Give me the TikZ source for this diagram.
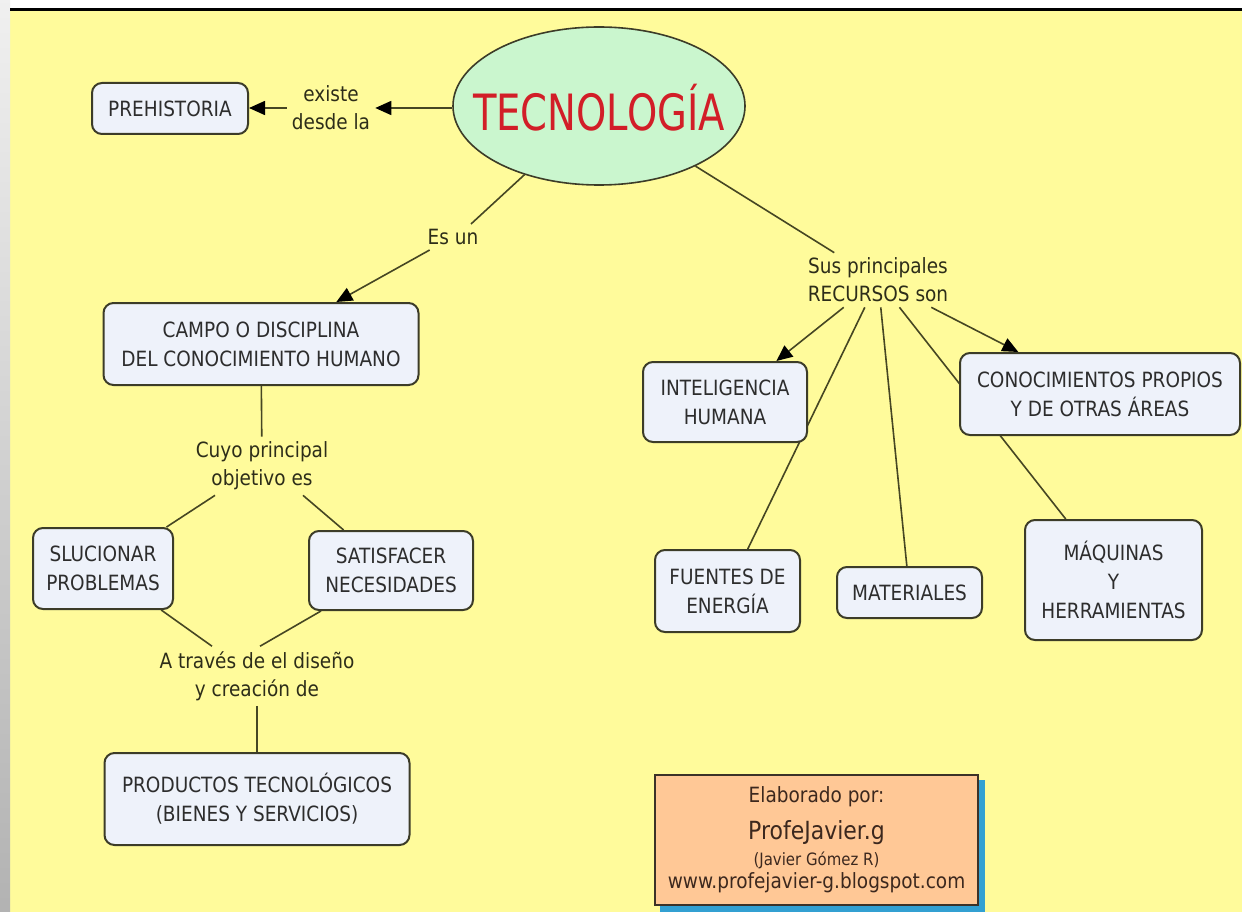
\documentclass[tikz,border=0pt]{standalone}
\usepackage{fontspec}
\setmainfont{DejaVu Sans}[FakeStretch=0.88]
\newfontfamily\titlefont{DejaVu Sans}[FakeStretch=0.77]
\usetikzlibrary{shapes.geometric,arrows.meta,calc}
\pgfdeclarelayer{bg}
\pgfdeclarelayer{edges}
\pgfsetlayers{bg,edges,main}
\definecolor{bgyellow}{RGB}{255,251,155}
\definecolor{boxfill}{RGB}{238,242,250}
\definecolor{boxdraw}{RGB}{60,60,40}
\definecolor{boxtext}{RGB}{45,45,45}
\definecolor{lbltext}{RGB}{45,45,25}
\definecolor{linecol}{RGB}{70,70,35}
\definecolor{ellfill}{RGB}{202,246,206}
\definecolor{titlered}{RGB}{210,30,40}
\definecolor{credfill}{RGB}{255,200,150}
\definecolor{creddraw}{RGB}{60,50,40}
\definecolor{credtext}{RGB}{60,40,30}
\definecolor{shadowblue}{RGB}{50,160,210}
\tikzset{
  box/.style={draw=boxdraw, line width=2pt, fill=boxfill, rounded corners=10pt,
    text=boxtext, align=center, font=\fontsize{21}{29}\selectfont, inner sep=0pt},
  lbl/.style={text=lbltext, align=center, font=\fontsize{21}{28}\selectfont, inner sep=5pt},
  conn/.style={draw=linecol, line width=1.6pt},
  arr/.style={conn, -{Triangle[length=16pt,width=14pt,color=black]}},
  credtxt/.style={text=credtext, anchor=base, inner sep=0pt}
}
\begin{document}
\begin{tikzpicture}[x=1pt,y=-1pt]
\useasboundingbox (0,0) rectangle (1242,912);
\begin{pgfonlayer}{bg}
  \fill[white] (0,0) rectangle (1242,912);
  \fill[bgyellow] (10,10) rectangle (1242,912);
  \shade[top color=black!6, bottom color=black!30] (0,0) rectangle (10,912);
  \fill[black] (10,8) rectangle (1242,11);
\end{pgfonlayer}

% nodes
\node[box, minimum width=156pt, minimum height=51pt] (pre) at (170,108.5) {PREHISTORIA};
\node[lbl] (exi) at (331,108) {existe\\desde la};
\node[ellipse, draw=boxdraw, line width=1.6pt, fill=ellfill, minimum width=292pt,
  minimum height=158pt, inner sep=0pt, text=titlered,
  font={\titlefont\fontsize{50}{50}\selectfont}] (tec) at (599,106)
  {\smash{\makebox[0pt]{\raisebox{-25pt}{TECNOLOGÍA}}}};
\node[lbl] (esun) at (453,237) {Es un};
\node[box, minimum width=315pt, minimum height=82pt] (campo) at (261,344) {CAMPO O DISCIPLINA\\DEL CONOCIMIENTO HUMANO};
\node[lbl] (cuyo) at (262,466) {Cuyo principal\\objetivo es};
\node[box, minimum width=140pt, minimum height=81pt] (sol) at (103,568.5) {SLUCIONAR\\PROBLEMAS};
\node[box, minimum width=164pt, minimum height=79pt] (sat) at (391,570.5) {SATISFACER\\NECESIDADES};
\node[lbl] (atr) at (257,676) {A través de el diseño\\y creación de};
\node[box, minimum width=305pt, minimum height=92pt] (prod) at (257,799) {PRODUCTOS TECNOLÓGICOS\\(BIENES Y SERVICIOS)};
\node[lbl] (sus) at (878,280) {Sus principales\\RECURSOS son};
\node[box, minimum width=164pt, minimum height=80pt] (intel) at (725,402) {INTELIGENCIA\\HUMANA};
\node[box, minimum width=280pt, minimum height=82pt] (cono) at (1100,394) {CONOCIMIENTOS PROPIOS\\Y DE OTRAS ÁREAS};
\node[box, minimum width=145pt, minimum height=82pt] (fuen) at (727.5,591) {FUENTES DE\\ENERGÍA};
\node[box, minimum width=145pt, minimum height=51pt] (mat) at (909.5,592.5) {MATERIALES};
\node[box, minimum width=177pt, minimum height=120pt] (maq) at (1113.5,580) {MÁQUINAS\\Y\\HERRAMIENTAS};

% credits
\node[draw=creddraw, line width=2pt, fill=credfill, minimum width=323pt,
  minimum height=130pt, inner sep=0pt] (cred) at (816.5,840) {};
\node[credtxt, font=\fontsize{21}{21}\selectfont] (c1) at (816.5,802) {Elaborado por:};
\node[credtxt, font=\fontsize{25}{25}\selectfont] (c2) at (816.5,839) {ProfeJavier.g};
\node[credtxt, font=\fontsize{17}{17}\selectfont] (c3) at (816.5,865) {(Javier Gómez R)};
\node[credtxt, font=\fontsize{21}{21}\selectfont] (c4) at (816.5,888) {www.profejavier-g.blogspot.com};

\begin{pgfonlayer}{edges}
  \fill[shadowblue] ([xshift=6pt,yshift=-6pt]cred.south west) rectangle ([xshift=6pt,yshift=-6pt]cred.north east);
  \draw[arr] (exi.east -| tec.west) -- (exi.east);
  \draw[arr] (exi.west) -- (exi.west -| pre.east);
  \draw[conn] (tec) -- ([xshift=18pt]esun.north);
  \draw[arr] (esun) -- (campo);
  \draw[conn] (tec) -- (sus);
  \draw[arr] (sus) -- (intel);
  \draw[conn] (sus) -- (fuen);
  \draw[conn] (sus) -- (mat);
  \draw[arr] (sus) -- (cono);
  \draw[conn] (sus) -- (maq);
  \draw[conn] (campo) -- (cuyo);
  \draw[conn] ([xshift=-47pt]cuyo.south) -- (sol);
  \draw[conn] ([xshift=41pt]cuyo.south) -- (sat);
  \draw[conn] (sol) -- ([xshift=-45pt]atr.north);
  \draw[conn] (sat) -- ([xshift=3pt]atr.north);
  \draw[conn] (atr) -- (prod);
\end{pgfonlayer}
\end{tikzpicture}
\end{document}
